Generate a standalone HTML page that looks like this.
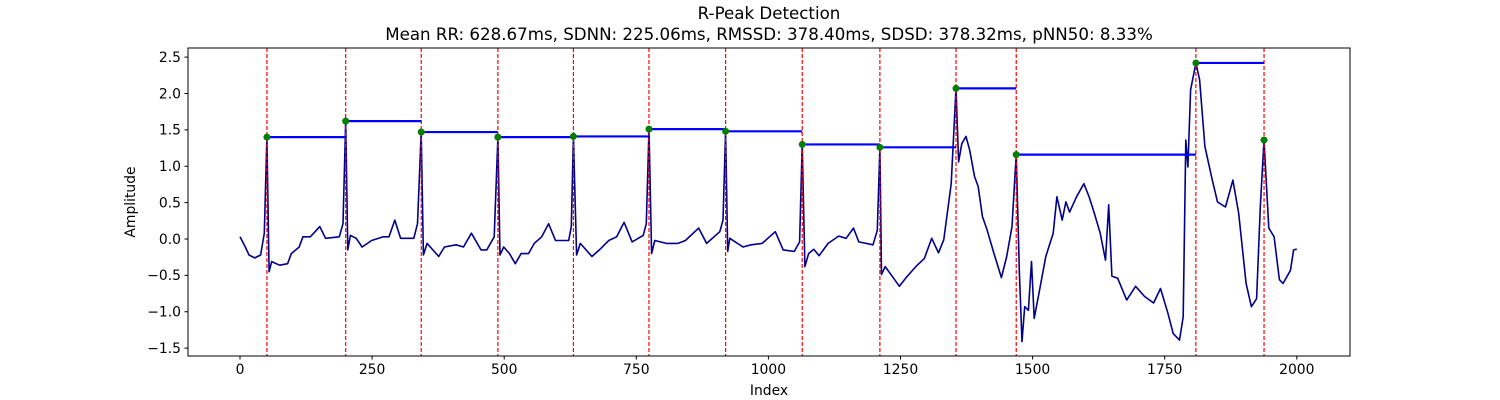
<!DOCTYPE html>
<html><head><meta charset="utf-8"><style>
body{margin:0;background:#fff;}
svg{display:block;font-family:"DejaVu Sans","Liberation Sans",sans-serif;}
</style></head><body>
<svg id="chart" width="1500" height="400">
<text x="769" y="19" text-anchor="middle" font-size="16.67">R-Peak Detection</text>
<text x="769" y="40" text-anchor="middle" font-size="16.67">Mean RR: 628.67ms, SDNN: 225.06ms, RMSSD: 378.40ms, SDSD: 378.32ms, pNN50: 8.33%</text>
<g id="plot"></g>
<rect x="188" y="48" width="1162" height="308" fill="none" stroke="#000" stroke-width="1"/>
<text x="769" y="395" text-anchor="middle" font-size="13.9">Index</text>
<text transform="translate(135,202) rotate(-90)" text-anchor="middle" font-size="13.9">Amplitude</text>
</svg>
<script>
const xTicks=[0,250,500,750,1000,1250,1500,1750,2000];
const yTicks=[-1.5,-1.0,-0.5,0.0,0.5,1.0,1.5,2.0,2.5];
const peakIdx=[51,200,343,488,631,774,919,1064,1211,1355,1469,1809,1938];
const peakVal=[1.40,1.62,1.47,1.40,1.41,1.51,1.48,1.30,1.26,2.07,1.16,2.42,1.36];
const sigIdx=[0,10,17,28,39,46,51,55,60,75,90,97,112,119,133,151,162,188,195,200,204,209,220,231,249,271,282,293,304,329,336,343,347,354,376,387,409,423,438,456,467,481,488,492,499,510,521,532,546,557,571,584,597,622,627,631,637,644,666,680,698,713,727,742,763,769,774,779,785,807,829,843,868,883,908,914,919,923,927,952,967,988,1013,1028,1049,1059,1064,1069,1076,1086,1096,1113,1133,1147,1161,1171,1198,1206,1211,1214,1221,1235,1248,1262,1279,1295,1309,1322,1332,1336,1346,1355,1360,1366,1374,1381,1390,1397,1405,1414,1427,1441,1451,1461,1469,1475,1480,1485,1492,1498,1503,1512,1525,1539,1546,1556,1563,1570,1583,1597,1607,1617,1628,1638,1644,1650,1661,1678,1695,1712,1729,1742,1756,1766,1778,1785,1790,1794,1799,1809,1816,1826,1840,1850,1865,1879,1890,1904,1914,1924,1931,1938,1947,1957,1967,1974,1988,1994,2000];
const sigVal=[0.03,-0.11,-0.22,-0.26,-0.22,0.08,1.40,-0.45,-0.31,-0.36,-0.34,-0.20,-0.11,0.03,0.03,0.17,0.01,0.03,0.21,1.62,-0.15,0.05,0.01,-0.11,-0.02,0.03,0.03,0.26,0.01,0.01,0.21,1.47,-0.22,-0.06,-0.24,-0.11,-0.08,-0.11,0.08,-0.15,-0.15,0.03,1.40,-0.22,-0.11,-0.20,-0.34,-0.20,-0.20,-0.06,0.03,0.21,-0.02,-0.02,0.17,1.41,-0.22,-0.06,-0.24,-0.15,-0.02,0.03,0.23,-0.04,0.05,0.21,1.51,-0.20,-0.02,-0.06,-0.06,-0.02,0.15,-0.06,0.10,0.26,1.48,-0.17,0.01,-0.11,-0.08,-0.06,0.10,-0.15,-0.17,-0.04,1.30,-0.38,-0.20,-0.14,-0.23,-0.06,0.04,0.01,0.15,-0.04,-0.08,0.12,1.26,-0.49,-0.38,-0.52,-0.65,-0.52,-0.38,-0.27,0.01,-0.19,-0.01,0.21,0.76,2.07,1.06,1.31,1.41,1.22,0.86,0.72,0.31,0.12,-0.20,-0.53,-0.24,0.17,1.16,-0.47,-1.41,-0.93,-0.98,-0.31,-1.09,-0.75,-0.24,0.08,0.58,0.26,0.51,0.37,0.58,0.76,0.58,0.35,0.08,-0.29,0.47,-0.51,-0.54,-0.84,-0.65,-0.79,-0.88,-0.68,-1.02,-1.30,-1.39,-1.07,1.36,0.99,2.05,2.42,2.19,1.27,0.81,0.51,0.44,0.81,0.35,-0.61,-0.93,-0.82,0.44,1.36,0.15,0.03,-0.56,-0.61,-0.43,-0.15,-0.14];

const NS='http://www.w3.org/2000/svg';
const g=document.getElementById('plot');
const X=v=>240+v*0.5284;
const Y=v=>239-v*72.75;
function mk(t,a){const e=document.createElementNS(NS,t);for(const k in a)e.setAttribute(k,a[k]);g.appendChild(e);return e;}
xTicks.forEach(t=>{
  const l=mk('line',{x1:X(t),x2:X(t),y1:356,y2:359.5,stroke:'#000'});
  
  
  const s=mk('text',{x:X(t),y:374,'text-anchor':'middle','font-size':'13.9'});s.textContent=t;
  
  
});
yTicks.forEach(t=>{
  const l=mk('line',{x1:184.5,x2:188,y1:Y(t),y2:Y(t),stroke:'#000'});
  
  
  const s=mk('text',{x:181,y:Y(t)+4.8,'text-anchor':'end','font-size':'13.9'});s.textContent=t.toFixed(1).replace('-','\u2212');
  
  
});
const pts=sigIdx.map((v,i)=>X(v).toFixed(1)+','+Y(sigVal[i]).toFixed(1)).join(' ');
const pl=mk('polyline',{points:pts,fill:'none',stroke:'#00008b','stroke-width':1.6,'stroke-linejoin':'round'});


peakIdx.forEach(p=>{
  const l=mk('line',{x1:X(p),x2:X(p),y1:48,y2:356,stroke:'#ff0000','stroke-width':1.2,'stroke-dasharray':'4,2'});
  
  
});
peakIdx.forEach((p,i)=>{
  if(i<peakIdx.length-1){
    const l=mk('line',{x1:X(p),x2:X(peakIdx[i+1]),y1:Y(peakVal[i]),y2:Y(peakVal[i]),stroke:'#0000ff','stroke-width':2.2});
    
    
  }
});
peakIdx.forEach((p,i)=>{
  const c=mk('circle',{cx:X(p),cy:Y(peakVal[i]),r:3.5,fill:'#008000'});
  
  
});
</script>
</body></html>
